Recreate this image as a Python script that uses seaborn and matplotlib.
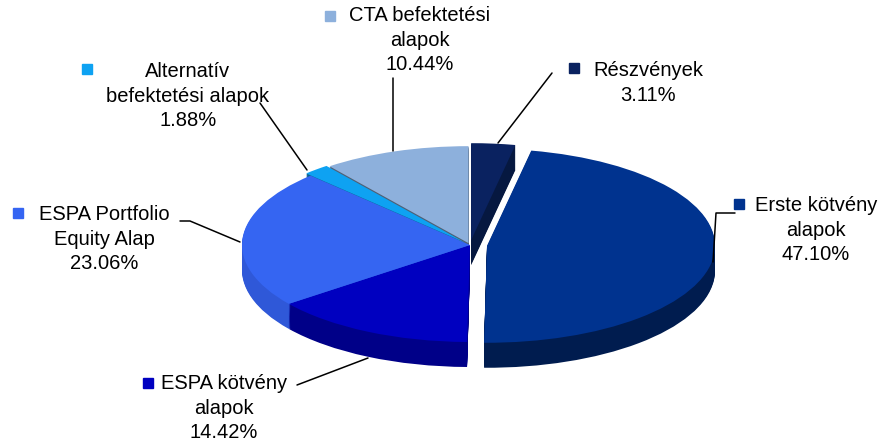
import matplotlib
matplotlib.use("Agg")
import matplotlib.pyplot as plt
import seaborn as sns

# slices, clockwise from 12 o'clock
categories = ["Részvények", "Erste kötvény\nalapok", "ESPA kötvény\nalapok",
              "ESPA Portfolio\nEquity Alap", "Alternatív\nbefektetési alapok",
              "CTA befektetési\nalapok"]
shares = [3.11, 47.10, 14.42, 23.06, 1.88, 10.44]
top_colors = ["#0a2260", "#00338f", "#0000c0", "#3565f2", "#0ea2f2", "#8db0dc"]
side_colors = ["#061840", "#001c4f", "#000088", "#2f58d8", "#0a5f90", "#4f6075"]
explode = [0.05, 0.075, 0.0, 0.0, 0.03, 0.02]

# layout in pixels (888x448 canvas)
label_pos = [(648, 83), (816, 230), (224, 408), (104, 239), (188, 96), (420, 40)]
marker_pos = [(574, 68), (739, 204), (148, 383), (18, 213), (87, 69), (330, 16)]
leaders = [
    [(552, 73), (498, 143)],
    [(735, 213), (716, 213), (713, 262)],
    [(297, 385), (368, 358)],
    [(180, 221), (190, 221), (240, 242)],
    [(260, 103), (307, 170)],
    [(393, 78), (393, 151)],
]

W, H = 888, 448
cx, cy = 470, 245      # pie centre (px)
rx, ry = 228, 97       # radii of the top ellipse (px)
thick = 25 / ry        # side wall height in data units


def px(x, y):
    return x / W, 1 - y / H


sns.set_theme(style="white")
plt.rcParams['font.family'] = ['Liberation Sans', 'DejaVu Sans']

fig = plt.figure(figsize=(8.88, 4.48), dpi=100)
ax = fig.add_axes([0, 0, 1, 1])

# side walls: stacked copies of the pie shifted downward
n_layers = 26
for k in range(n_layers, 0, -1):
    ax.pie(shares, explode=explode, colors=side_colors, startangle=90,
           counterclock=False, center=(0, -thick * k / n_layers), radius=1,
           wedgeprops=dict(linewidth=0))

# top face
ax.pie(shares, explode=explode, colors=top_colors, startangle=90,
       counterclock=False, center=(0, 0), radius=1,
       wedgeprops=dict(linewidth=0))

ax.set_aspect('auto')
ax.set_xlim(-cx / rx, (W - cx) / rx)
ax.set_ylim(-(H - cy) / ry, cy / ry)
ax.axis('off')

for name, val, col, lp, mp, line in zip(categories, shares, top_colors,
                                         label_pos, marker_pos, leaders):
    ax.text(*px(*lp), f"{name}\n{val:.2f}%", transform=ax.transAxes,
            ha='center', va='center', fontsize=14.5, color='black',
            linespacing=1.38)
    ax.plot(*px(*mp), marker='s', markersize=7, color=col,
            transform=ax.transAxes, clip_on=False)
    xs, ys = zip(*[px(*p) for p in line])
    ax.plot(xs, ys, color='black', linewidth=1.1, transform=ax.transAxes,
            clip_on=False)

fig.savefig("out.png", dpi=100, facecolor='white')
